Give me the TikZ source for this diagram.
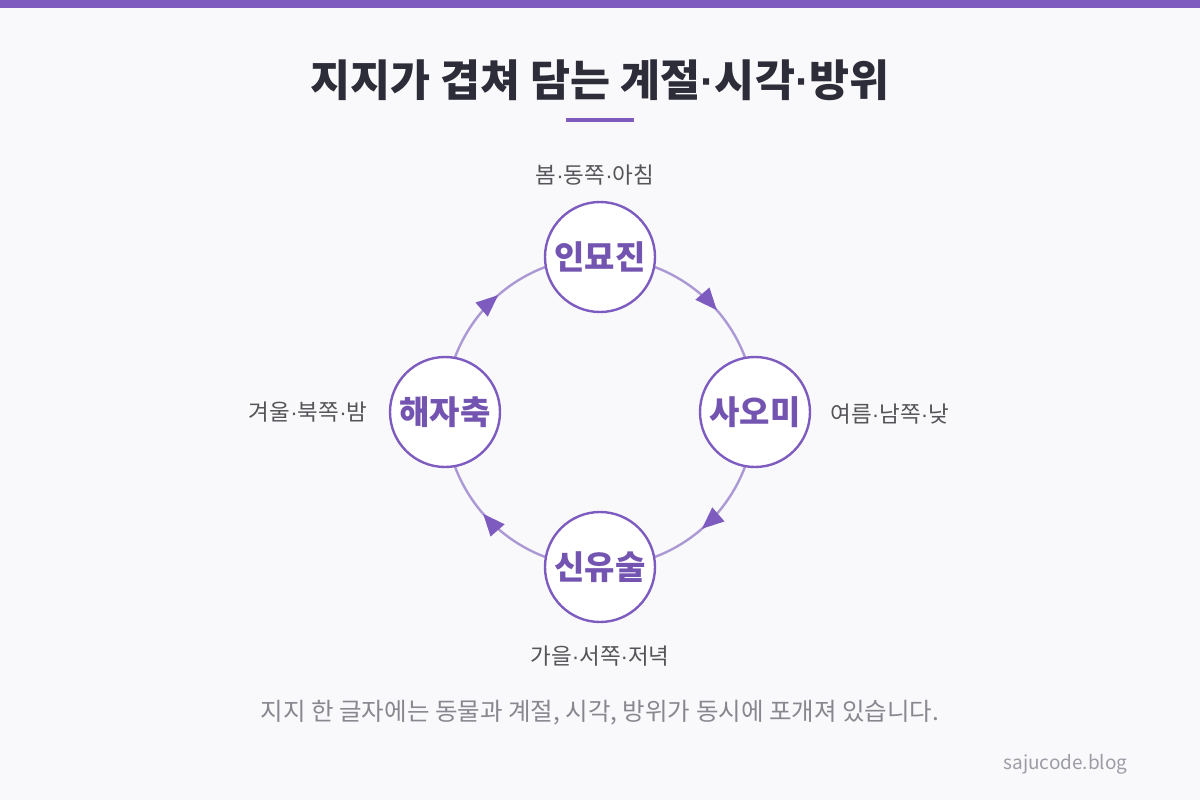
\documentclass[tikz,border=0pt]{standalone}
\usepackage{fontspec}
\setmainfont{Noto Sans CJK KR}
\newfontfamily\dotf{Liberation Sans}
\newcommand{\md}{{\dotf ·}}
\usetikzlibrary{arrows.meta,decorations.markings}
\definecolor{bg}{HTML}{F9F9FB}
\definecolor{purp}{HTML}{7E5CBF}
\definecolor{nodetxt}{HTML}{7354B0}
\definecolor{ringc}{HTML}{AB99D4}
\definecolor{titlec}{HTML}{2D2D3A}
\definecolor{labc}{HTML}{555559}
\definecolor{capc}{HTML}{87878F}
\definecolor{wmc}{HTML}{9C9CA6}
\tikzset{
  branch/.style={circle,draw=purp,line width=2.4pt,fill=white,minimum size=110pt,inner sep=0pt,
    font=\fontsize{33}{36}\selectfont\bfseries,text=nodetxt},
  lab/.style={font=\fontsize{22.5}{25}\selectfont,text=labc},
  ringarc/.style={draw=ringc,line width=2.4pt,
    postaction={decorate,decoration={markings,mark=at position 0.58 with {\arrow[purp]{Triangle[length=22pt,width=18pt]}}}}},
}
\begin{document}
\begin{tikzpicture}[x=1pt,y=-1pt]
\useasboundingbox (0,0) rectangle (1200,800);
\fill[bg] (0,0) rectangle (1200,800);
\fill[purp] (0,0) rectangle (1200,8);
\node[font=\fontsize{43.5}{46}\selectfont\bfseries,text=titlec] (title) at (600,80) {지지가 겹쳐 담는 계절\md 시각\md 방위};
\draw[purp,line width=4pt] (566,120) -- (634,120);
\coordinate (c) at (600,412);
% ring arcs (y axis points down, so angles run clockwise on screen)
\draw[ringarc] ([shift={(-69.6:155)}]c) arc[start angle=-69.6,end angle=-20.4,radius=155];
\draw[ringarc] ([shift={(20.4:155)}]c) arc[start angle=20.4,end angle=69.6,radius=155];
\draw[ringarc] ([shift={(110.4:155)}]c) arc[start angle=110.4,end angle=159.6,radius=155];
\draw[ringarc] ([shift={(-159.6:155)}]c) arc[start angle=-159.6,end angle=-110.4,radius=155];
\node[branch] (t) at (600,257) {인묘진};
\node[branch] (r) at (755,412) {사오미};
\node[branch] (b) at (600,567) {신유술};
\node[branch] (l) at (445,412) {해자축};
\node[lab] (lt) at (595,175) {봄\md 동쪽\md 아침};
\node[lab,anchor=west] (lr) at (827,414) {여름\md 남쪽\md 낮};
\node[lab] (lb) at (600,656) {가을\md 서쪽\md 저녁};
\node[lab,anchor=east] (ll) at (371,412) {겨울\md 북쪽\md 밤};
\node[font=\fontsize{24.5}{27}\selectfont,text=capc] (cap) at (600,713) {지지 한 글자에는 동물과 계절, 시각, 방위가 동시에 포개져 있습니다.};
\node[font=\fontsize{19}{22}\selectfont,text=wmc,anchor=east] (wm) at (1131,764) {sajucode.blog};
\end{tikzpicture}
\end{document}
